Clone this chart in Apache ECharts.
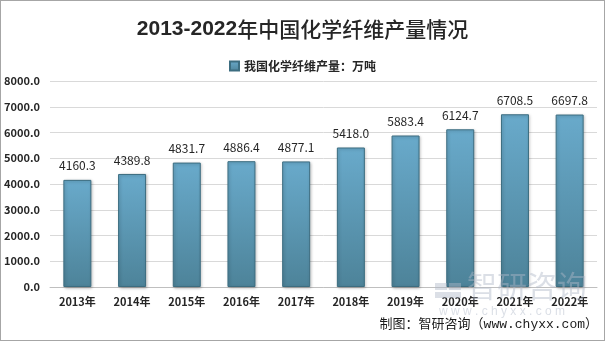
<!DOCTYPE html>
<html><head><meta charset="utf-8">
<script src="https://cdn.jsdelivr.net/npm/echarts@6/dist/echarts.min.js"></script>
<style>html,body{margin:0;padding:0;background:#fff}#c{width:603px;height:339px;border:1px solid #a6a6a6}</style>
</head><body><div id="c"></div>
<script>
var categories = ['2013年','2014年','2015年','2016年','2017年','2018年','2019年','2020年','2021年','2022年'];
var values = [4160.3, 4389.8, 4831.7, 4886.4, 4877.1, 5418.0, 5883.4, 6124.7, 6708.5, 6697.8];
var seriesName = '我国化学纤维产量：万吨';
var chart = echarts.init(document.getElementById('c'));
var font = '"Noto Sans CJK SC", "Liberation Sans", sans-serif';
var wm = 'rgba(175,185,200,0.45)';
chart.setOption({
  animation: false,
  title: {text: '{a|2013-2022}{b|年中国化学纤维产量情况}', left: 'center', top: 13,
    textStyle: {rich: {
      a: {fontSize: 21, fontWeight: 'bold', color: '#262626', fontFamily: '"Liberation Sans", sans-serif'},
      b: {fontSize: 21, fontWeight: 500, color: '#262626', fontFamily: font}
    }}},
  legend: {top: 54, left: 'center', itemWidth: 9, itemHeight: 9, icon: 'rect', itemGap: 2,
    textStyle: {fontSize: 12, fontWeight: 'bold', color: '#262626', fontFamily: font},
    data: [seriesName]},
  grid: {left: 46, right: 7, top: 80, bottom: 53, containLabel: false},
  xAxis: {type: 'category', data: categories,
    axisLine: {lineStyle: {color: '#bfbfbf'}}, axisTick: {show: false},
    axisLabel: {fontSize: 11, fontWeight: 'bold', color: '#262626', margin: 9, fontFamily: font}},
  yAxis: {type: 'value', min: 0, max: 8000, interval: 1000,
    axisLine: {show: false}, axisTick: {show: false},
    splitLine: {lineStyle: {color: '#d9d9d9'}},
    axisLabel: {fontSize: 11, fontWeight: 'bold', color: '#262626', margin: 10, fontFamily: font,
      formatter: function(v){return v.toFixed(1);}}},
  graphic: [
    {type: 'rect', left: 434, top: 282, z: 100, shape: {width: 12, height: 7}, style: {fill: wm}},
    {type: 'rect', left: 448, top: 282, z: 100, shape: {width: 12, height: 7}, style: {fill: wm}},
    {type: 'rect', left: 434, top: 291, z: 100, shape: {width: 26, height: 6}, style: {fill: wm}},
    {type: 'text', left: 466, top: 270, z: 100, style: {text: '智研咨询', fontSize: 30, fill: wm, fontFamily: font}},
    {type: 'text', left: 438, top: 305, z: 100, style: {text: 'w w w . c h y x x . c o m', fontSize: 12, fill: wm, fontFamily: '"Liberation Sans", sans-serif'}},
    {type: 'text', right: 6, top: 317, z: 110, style: {text: '制图：智研咨询（www.chyxx.com）', fontSize: 13, fill: '#1a1a1a', fontFamily: '"Liberation Mono", "Noto Sans CJK SC", monospace'}}
  ],
  series: [{
    name: seriesName, type: 'bar', data: values, barWidth: 28,
    itemStyle: {
      color: new echarts.graphic.LinearGradient(0, 0, 0, 1, [
        {offset: 0, color: '#69aacb'}, {offset: 1, color: '#4d8399'}]),
      borderColor: '#3c6d80', borderWidth: 1,
      shadowColor: 'rgba(0,0,0,0.25)', shadowBlur: 3, shadowOffsetX: 1, shadowOffsetY: 1
    },
    label: {show: true, position: 'top', distance: 8, fontSize: 12, color: '#262626', fontFamily: font,
      formatter: function(p){return p.value.toFixed(1);}}
  }]
});
</script></body></html>
